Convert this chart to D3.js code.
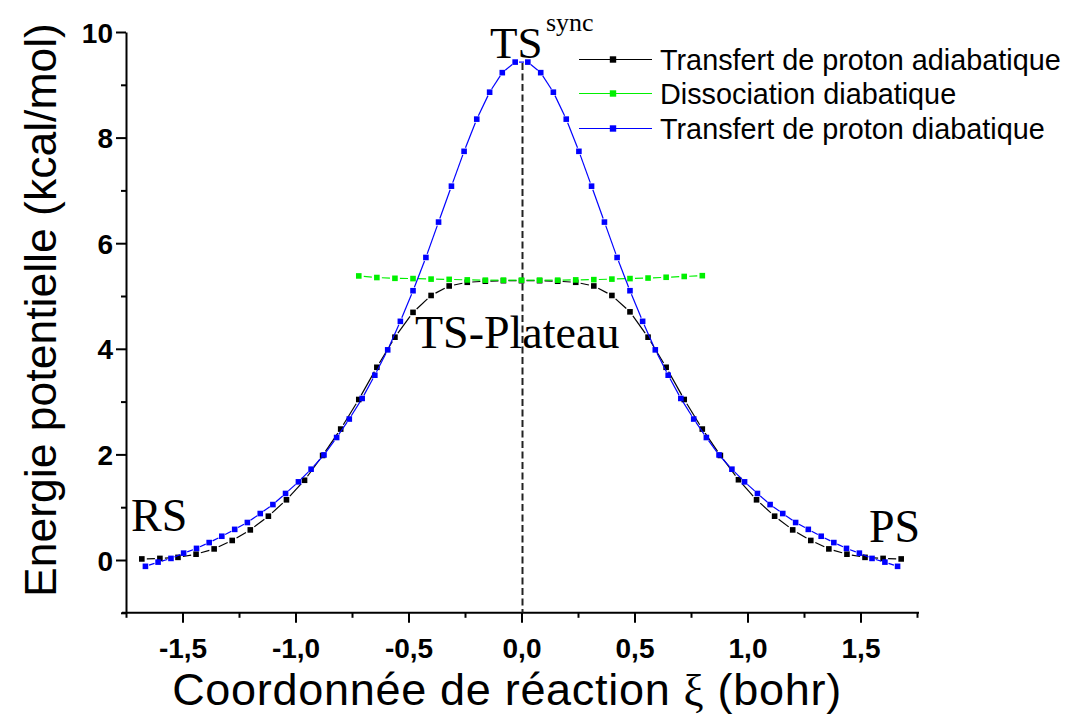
<!DOCTYPE html>
<html>
<head>
<meta charset="utf-8">
<script src="https://cdn.jsdelivr.net/npm/d3@7"></script>
<style>
  html, body { margin: 0; padding: 0; background: #fff; }
  svg { display: block; }
</style>
</head>
<body>
<svg id="chart" width="1069" height="716"></svg>
<script>
// Reaction coordinate ξ (bohr) and potential energy (kcal/mol)
const adiabX = [-1.68,-1.60,-1.52,-1.44,-1.36,-1.28,-1.20,-1.12,-1.04,-0.96,-0.88,-0.80,-0.72,-0.64,-0.56,-0.48,-0.40,-0.32,-0.24,-0.16,-0.08,0.00,
  0.08,0.16,0.24,0.32,0.40,0.48,0.56,0.64,0.72,0.80,0.88,0.96,1.04,1.12,1.20,1.28,1.36,1.44,1.52,1.60,1.68];
const adiabE = [0.02,0.03,0.05,0.11,0.21,0.37,0.57,0.83,1.14,1.51,1.98,2.48,3.04,3.65,4.22,4.69,5.01,5.19,5.26,5.28,5.29,5.29,
  5.29,5.28,5.26,5.19,5.01,4.70,4.22,3.65,3.04,2.48,1.98,1.52,1.14,0.83,0.57,0.37,0.21,0.11,0.05,0.03,0.02];

const dissocX = [-0.72,-0.64,-0.56,-0.48,-0.40,-0.32,-0.24,-0.16,-0.08,0.00,0.08,0.16,0.24,0.32,0.40,0.48,0.56,0.64,0.72,0.80];
const dissocE = [5.38,5.35,5.335,5.33,5.32,5.315,5.305,5.30,5.30,5.30,5.30,5.30,5.305,5.31,5.32,5.33,5.34,5.355,5.37,5.385];

const diabX = [-1.664,-1.608,-1.551,-1.495,-1.438,-1.382,-1.326,-1.269,-1.213,-1.156,-1.100,-1.044,-0.987,-0.931,-0.874,
  -0.818,-0.762,-0.705,-0.649,-0.592,-0.536,-0.480,-0.423,-0.367,-0.310,-0.254,-0.198,-0.141,-0.085,-0.028,
  0.028,0.085,0.141,0.198,0.254,0.310,0.367,0.423,0.480,0.536,0.592,0.649,0.705,0.762,0.818,
  0.874,0.931,0.987,1.044,1.100,1.156,1.213,1.269,1.326,1.382,1.438,1.495,1.551,1.608,1.664];
const diabE = [-0.12,-0.04,0.03,0.13,0.22,0.33,0.45,0.58,0.71,0.88,1.05,1.26,1.48,1.72,1.99,2.32,2.67,3.06,3.50,3.98,
  4.52,5.10,5.73,6.40,7.08,7.74,8.35,8.86,9.23,9.43,
  9.43,9.23,8.86,8.35,7.74,7.08,6.40,5.73,5.10,4.52,3.98,3.50,3.06,2.67,2.32,1.99,1.72,1.48,1.26,1.05,
  0.88,0.71,0.58,0.45,0.33,0.22,0.13,0.03,-0.04,-0.12];

const seriesNames = ["Transfert de proton adiabatique", "Dissociation diabatique", "Transfert de proton diabatique"];
const seriesColors = ["#000000", "#00f000", "#0000ff"];

const xMajor = [-1.5,-1.0,-0.5,0.0,0.5,1.0,1.5];
const xMinor = [-1.75,-1.25,-0.75,-0.25,0.25,0.75,1.25,1.75];
const yMajor = [0,2,4,6,8,10];
const yMinor = [-1,1,3,5,7,9];

const svg = d3.select("#chart");
const x = d3.scaleLinear().domain([-1.75, 1.75]).range([126, 917]);
const y = d3.scaleLinear().domain([-1, 10]).range([612.8, 32]);
const fmt = d => d3.format(".1f")(d).replace(".", ",").replace("−", "-");
const sans = "Arial, 'Liberation Sans', sans-serif";
const serif = "'Times New Roman', 'Liberation Serif', serif";

// Axes
const xAxisG = svg.append("g").attr("transform", `translate(0,${y(-1)})`);
xAxisG.call(d3.axisBottom(x).tickValues(xMajor).tickSize(10).tickSizeOuter(0).tickFormat(fmt));
xAxisG.append("g").call(d3.axisBottom(x).tickValues(xMinor).tickSize(5).tickSizeOuter(0).tickFormat(""))
  .select(".domain").remove();
xAxisG.select(".domain").attr("d", `M${x(-1.75) - 4},0H${x(1.75) + 2}`);

const yAxisG = svg.append("g").attr("transform", `translate(${x(-1.75)},0)`);
yAxisG.call(d3.axisLeft(y).tickValues(yMajor).tickSize(10).tickSizeOuter(0).tickFormat(d3.format("d")));
yAxisG.append("g").call(d3.axisLeft(y).tickValues(yMinor).tickSize(5).tickSizeOuter(0).tickFormat(""))
  .select(".domain").remove();

svg.selectAll(".domain, .tick line").attr("stroke", "#000").attr("stroke-width", 2);
xAxisG.selectAll(".tick text").attr("dy", null).attr("y", 45)
  .style("font-family", sans).style("font-weight", "bold").style("font-size", "28px").attr("fill", "#000");
yAxisG.selectAll(".tick text").attr("x", -13).attr("dy", "0.36em")
  .style("font-family", sans).style("font-weight", "bold").style("font-size", "28px").attr("fill", "#000");

// Axis titles
svg.append("text").attr("transform", "translate(56,310) rotate(-90)").attr("text-anchor", "middle")
  .style("font-family", sans).style("font-size", "44.5px").text("Energie potentielle (kcal/mol)");
const xt = svg.append("text").attr("x", 507).attr("y", 705).attr("text-anchor", "middle")
  .style("font-family", sans).style("font-size", "45px").style("letter-spacing", "0.7px");
xt.append("tspan").text("Coordonnée de réaction ");
xt.append("tspan").style("font-family", serif).text("ξ");
xt.append("tspan").text(" (bohr)");

// Vertical dashed line at ξ = 0
svg.append("line").attr("x1", x(0) + 1).attr("x2", x(0) + 1).attr("y1", 63).attr("y2", y(-1))
  .attr("stroke", "#222").attr("stroke-width", 2).attr("stroke-dasharray", "7,3.5");

// Series drawn as line segments that stop short of each marker
function drawSeries(xs, es, color, gap) {
  const pts = xs.map((v, i) => [x(v), y(es[i])]);
  const g = svg.append("g");
  for (let i = 0; i < pts.length - 1; i++) {
    const [x0, y0] = pts[i], [x1, y1] = pts[i + 1];
    const dx = x1 - x0, dy = y1 - y0, d = Math.hypot(dx, dy);
    if (d <= 2 * gap) continue;
    const ux = dx / d, uy = dy / d;
    g.append("line").attr("x1", x0 + ux * gap).attr("y1", y0 + uy * gap)
      .attr("x2", x1 - ux * gap).attr("y2", y1 - uy * gap)
      .attr("stroke", color).attr("stroke-width", 1.2);
  }
  g.selectAll("rect").data(pts).join("rect")
    .attr("x", p => p[0] - 2.8).attr("y", p => p[1] - 2.8)
    .attr("width", 5.6).attr("height", 5.6).attr("fill", color);
}
drawSeries(adiabX, adiabE, seriesColors[0], 5);
drawSeries(dissocX, dissocE, seriesColors[1], 5);
drawSeries(diabX, diabE, seriesColors[2], 3.8);

// Annotations
svg.append("text").attr("x", 131).attr("y", 531).style("font-family", serif).style("font-size", "46px").text("RS");
svg.append("text").attr("x", 869).attr("y", 542).style("font-family", serif).style("font-size", "46px").text("PS");
svg.append("text").attr("x", 415).attr("y", 348).style("font-family", serif).style("font-size", "46px").text("TS-Plateau");
svg.append("text").attr("x", 490).attr("y", 58).style("font-family", serif).style("font-size", "45px").text("TS");
svg.append("text").attr("x", 546).attr("y", 31).style("font-family", serif).style("font-size", "26px").text("sync");

// Legend
const legend = svg.append("g");
const legY = [59.5, 93.5, 128.5];
seriesNames.forEach((name, i) => {
  legend.append("line").attr("x1", 579).attr("x2", 652).attr("y1", legY[i]).attr("y2", legY[i])
    .attr("stroke", seriesColors[i]).attr("stroke-width", 1.2);
  legend.append("rect").attr("x", 613 - 3.2).attr("y", legY[i] - 3.2).attr("width", 6.4).attr("height", 6.4)
    .attr("fill", seriesColors[i]);
  legend.append("text").attr("x", 660).attr("y", legY[i]).attr("dy", "0.36em")
    .style("font-family", sans).style("font-size", "28.8px").text(name);
});
</script>
</body>
</html>
